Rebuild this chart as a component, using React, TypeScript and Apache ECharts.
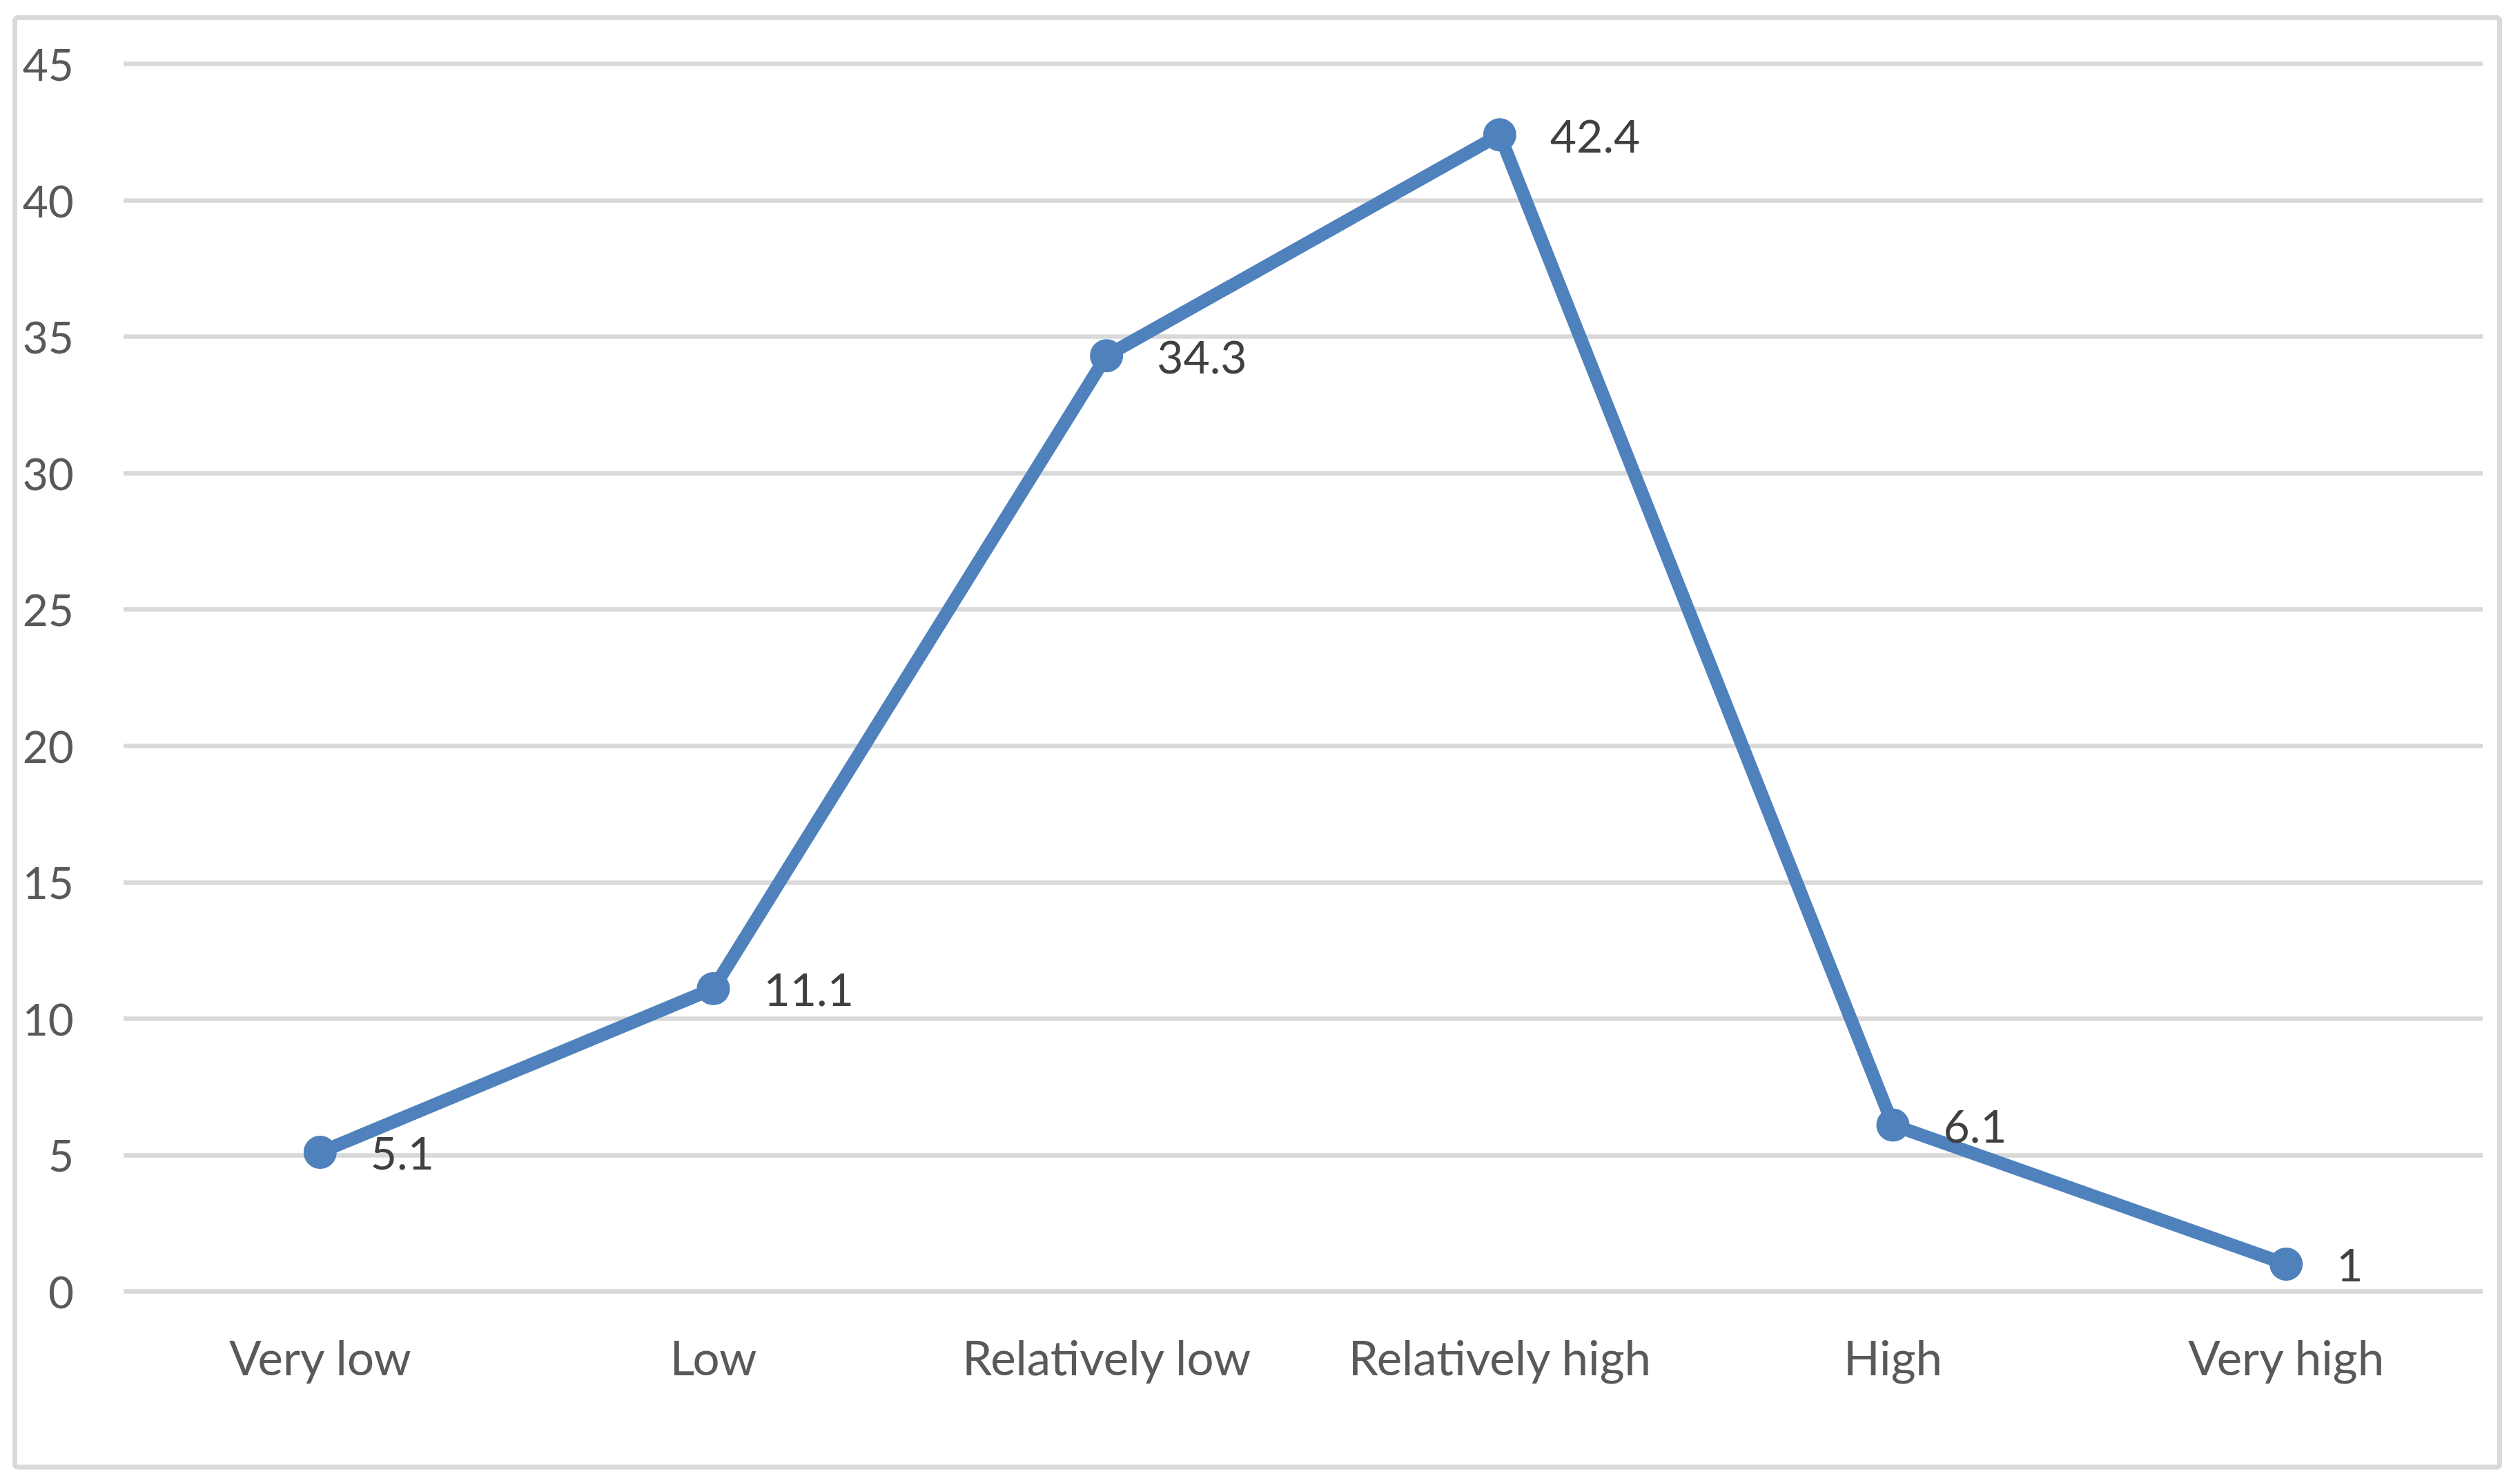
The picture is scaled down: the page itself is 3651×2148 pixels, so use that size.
import React, { useEffect, useRef } from "react";
import * as echarts from "echarts";

const categories = ["Very low", "Low", "Relatively low", "Relatively high", "High", "Very high"];
const values = [5.1, 11.1, 34.3, 42.4, 6.1, 1];
const yTicks = [0, 5, 10, 15, 20, 25, 30, 35, 40, 45];

export default function App() {
  const ref = useRef<HTMLDivElement>(null);
  useEffect(() => {
    if (!ref.current) return;
    const chart = echarts.init(ref.current, null, { renderer: "svg" });
    chart.setOption({
      animation: false,
      backgroundColor: "#ffffff",
      graphic: [
        {
          type: "rect",
          shape: { x: 21.5, y: 25.5, width: 3600, height: 2099.5, r: 4 },
          style: { fill: "none", stroke: "#d9d9d9", lineWidth: 7 },
          silent: true,
        },
      ],
      grid: { left: 179, right: 54, top: 92.5, bottom: 277.5, containLabel: false },
      xAxis: {
        type: "category",
        data: categories,
        boundaryGap: true,
        axisLine: { show: false },
        axisTick: { show: false },
        axisLabel: {
          interval: 0,
          hideOverlap: false,
          color: "#595959",
          fontFamily: "Lato",
          fontSize: 69,
          margin: 60,
        },
      },
      yAxis: {
        type: "value",
        min: yTicks[0],
        max: yTicks[yTicks.length - 1],
        interval: 5,
        axisLine: { show: false },
        axisTick: { show: false },
        axisLabel: {
          color: "#595959",
          fontFamily: "Lato",
          fontSize: 64,
          margin: 72,
        },
        splitLine: { lineStyle: { color: "#d9d9d9", width: 6.5 } },
      },
      series: [
        {
          type: "line",
          data: values,
          symbol: "circle",
          symbolSize: 48,
          lineStyle: { color: "#4f81bd", width: 19 },
          itemStyle: { color: "#4f81bd" },
          label: {
            show: true,
            position: "right",
            distance: 49,
            color: "#404040",
            fontFamily: "Lato",
            fontSize: 66,
          },
        },
      ],
    });
    return () => chart.dispose();
  }, []);
  return (
    <div
      ref={ref}
      style={{ position: "fixed", left: 0, top: 0, width: 3651, height: 2148 }}
    />
  );
}
